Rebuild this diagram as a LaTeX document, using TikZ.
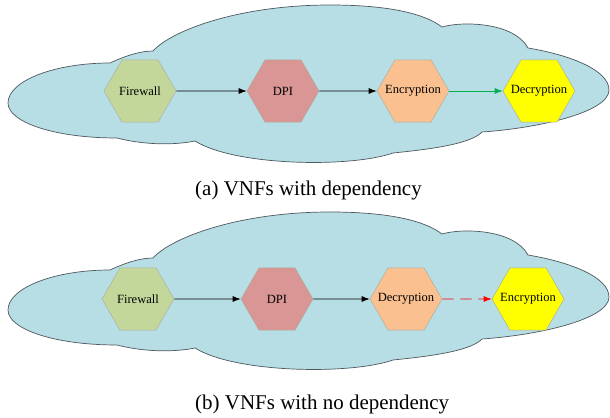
\documentclass[tikz,border=0pt]{standalone}
\usepackage{fontspec}
\setmainfont{Liberation Serif}
\usetikzlibrary{arrows.meta,shapes.geometric}
\definecolor{CloudBlue}{HTML}{B7DDE5}
\definecolor{CloudEdge}{HTML}{4E585E}
\definecolor{FwGreen}{HTML}{C4D79B}
\definecolor{DpiRose}{HTML}{D99694}
\definecolor{EncPeach}{HTML}{FAC090}
\definecolor{DecYellow}{HTML}{FFFF00}
\definecolor{HexEdge}{HTML}{A9AFA0}
\definecolor{DepGreen}{HTML}{00B050}
\definecolor{NoDepRed}{HTML}{FF0000}
\newcommand{\vnfcloud}[1]{%
  \draw[CloudEdge,fill=CloudBlue,line width=0.6pt,shift={(0,#1)}]
    (8,103) .. controls (8,81) and (54,63) .. (110,63)
    .. controls (125,56) and (140,51) .. (153,51)
    .. controls (172,30) and (240,5) .. (330,5)
    .. controls (390,5) and (425,14) .. (442,27)
    .. controls (462,21) and (514,22) .. (528,48)
    .. controls (570,55) and (609,70) .. (609,90)
    .. controls (609,112) and (540,128) .. (482,132)
    .. controls (470,145) and (422,150) .. (393,153)
    .. controls (350,168) and (235,166) .. (195,141)
    .. controls (170,146) and (140,144) .. (117,138)
    .. controls (54,138) and (8,122) .. (8,103) -- cycle;
}

\begin{document}
\begin{tikzpicture}[x=0.03cm,y=-0.03cm,
    vnf/.style={regular polygon,regular polygon sides=6,minimum size=2.16cm,
                inner sep=0pt,draw=HexEdge,line width=0.4pt,
                font=\fontsize{10.7}{12}\selectfont,
                execute at begin node={\hbox to 0pt\bgroup\hss},
                execute at end node={\hss\egroup}},
    flow/.style={-{Latex[length=2.4mm,width=1.8mm]},line width=0.8pt},
    caption/.style={anchor=base west,inner sep=0pt,
                    font=\fontsize{17.9}{21}\selectfont}]
  \useasboundingbox (0,0) rectangle (610,418);

  % (a) with dependency
  \vnfcloud{0}
  \node[vnf,fill=FwGreen]   (fw1)  at (140,91) {Firewall};
  \node[vnf,fill=DpiRose]   (dpi1) at (283,91) {DPI};
  \node[vnf,fill=EncPeach]  (enc1) at (413,91) {Encryption};
  \node[vnf,fill=DecYellow] (dec1) at (539,91) {Decryption};
  \draw[flow] (fw1) -- (dpi1);
  \draw[flow] (dpi1) -- (enc1);
  \draw[flow,DepGreen] (enc1) -- (dec1);
  \node[caption] (capA) at (195,195.5) {(a) VNFs with dependency};

  % (b) with no dependency
  \vnfcloud{207}
  \node[vnf,fill=FwGreen]   (fw2)  at (138,299) {Firewall};
  \node[vnf,fill=DpiRose]   (dpi2) at (277,299) {DPI};
  \node[vnf,fill=EncPeach]  (dec2) at (406,299) {Decryption};
  \node[vnf,fill=DecYellow] (enc2) at (528,299) {Encryption};
  \draw[flow] (fw2) -- (dpi2);
  \draw[flow] (dpi2) -- (dec2);
  \draw[flow,NoDepRed,dash pattern=on 3.4mm off 2mm] (dec2) -- (enc2);
  \node[caption] (capB) at (195,409.5) {(b) VNFs with no dependency};
\end{tikzpicture}
\end{document}
